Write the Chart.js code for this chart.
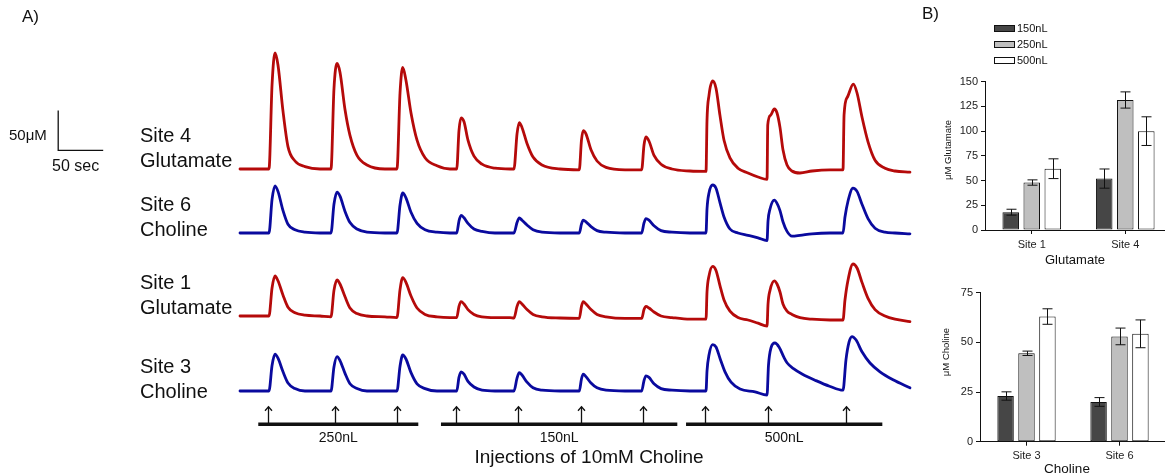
<!DOCTYPE html>
<html>
<head>
<meta charset="utf-8">
<script src="https://cdn.jsdelivr.net/npm/chart.js@4.4.1/dist/chart.umd.min.js"></script>
<style>
  html, body { margin: 0; padding: 0; background: #fff; overflow: hidden; }
  body { width: 1165px; height: 476px; position: relative; font-family: "Liberation Sans", Arial, sans-serif; color: #111; }
  .abs { position: absolute; white-space: nowrap; }
  canvas { position: absolute; }
  .site { font-size: 20px; line-height: 25px; left: 140px; }
  .rot { transform: translate(-50%, -50%) rotate(-90deg); font-size: 9.5px; }
  .ctr { transform: translate(-50%, -50%); }
  .legend-row { position: absolute; left: 994px; height: 14px; font-size: 11px; line-height: 14px; }
  .legend-row span.box { position: absolute; left: 0; top: 4px; width: 19px; height: 5px; border: 1px solid #111; }
  .legend-row span.txt { position: absolute; left: 23px; top: 0; }
</style>
</head>
<body>
<canvas id="traces" width="930" height="476" style="left:0;top:0"></canvas>
<canvas id="gluBars" width="252" height="200" style="left:920px;top:70px"></canvas>
<canvas id="choBars" width="246" height="196" style="left:920px;top:280px"></canvas>

<div class="abs" style="left:22px;top:7px;font-size:17px">A)</div>
<div class="abs" style="left:922px;top:4px;font-size:17px">B)</div>
<div class="abs" style="left:9px;top:126px;font-size:15px">50μM</div>
<div class="abs" style="left:52px;top:157px;font-size:16px">50 sec</div>
<div class="abs site" style="top:123px">Site 4<br>Glutamate</div>
<div class="abs site" style="top:192px">Site 6<br>Choline</div>
<div class="abs site" style="top:270px">Site 1<br>Glutamate</div>
<div class="abs site" style="top:354px">Site 3<br>Choline</div>
<div class="abs ctr" style="left:589px;top:457px;font-size:19px">Injections of 10mM Choline</div>
<div class="abs rot" style="left:947px;top:150px">μM Glutamate</div>
<div class="abs rot" style="left:945px;top:352px">μM Choline</div>
<div class="abs ctr" style="left:1075px;top:259px;font-size:13px">Glutamate</div>
<div class="abs ctr" style="left:1067px;top:468px;font-size:13.5px">Choline</div>
<div id="legend"></div>

<script>
// ---- Panel A: traces, [time (s), concentration above baseline (µM)] ----
const site4Glutamate = [
  [0,0],[32.2,0],[35.6,105],[38.9,145],[42.2,130],[47.8,72],[53.3,28],[61.1,10],[72.2,3],[88.9,0],
  [101.1,0],[104.4,100],[107.8,132],[111.1,121],[116.7,74],[122.2,42],[130,17],[141.1,5],[161.1,0],
  [174.4,0],[177.8,95],[180.8,127],[184.4,111],[190,70],[196.7,36],[205.6,14],[218.9,4],[233.3,0],
  [240.8,0],[243.3,48],[245.6,64],[248.9,59],[253.3,36],[260,16],[268.9,6],[283.3,1],[300,0],
  [304.4,0],[307.8,44],[310.3,58],[313.3,52],[318.9,32],[325.6,15],[335.6,5],[355.6,0],
  [377,-1],[379.4,36],[381.4,48],[384.4,44],[390,24],[396.7,10],[406.7,2],[427.8,-1],
  [446.3,-1],[448.9,30],[451.1,40],[454.4,35],[460,17],[467.8,6],[480,0],[500,-2.5],[517.8,-3],
  [518.9,61],[521.1,92],[525.2,110],[528.9,101],[533.3,67],[537.8,36],[544.4,14],[553.3,1],[564.4,-5],[575.6,-10],[585.6,-13],
  [586.4,55],[589.5,67],[593.7,75],[596.7,70],[600,52],[603.3,24],[607.8,5],[613.3,-2.5],[622.2,-5],[635.6,-2.5],[655.6,-1],[670,-1],
  [671.2,68],[675,90],[681.5,106],[685.6,95],[691.1,65],[697.8,34],[705.6,11],[716.7,1],[727.8,-2.5],[744.4,-4]
];
const site6Choline = [
  [0,0],[32.2,0],[35.6,42],[38.9,59],[42.2,52],[47.8,28],[53.3,11],[61.1,4],[72.2,1],[88.9,0],
  [101.1,0],[104.4,36],[107.8,51],[111.1,46],[116.7,27],[122.2,13],[130,5],[141.1,1],[161.1,0],
  [174.4,0],[177.8,35],[180.8,50],[184.4,44],[190,26],[196.7,12],[205.6,4],[218.9,1],[233.3,0],
  [240.8,0],[243.3,15],[245.6,22],[248.9,19],[253.3,12],[260,5],[268.9,2],[283.3,0],[300,0],
  [304.4,0],[307.8,13],[310.3,19],[313.3,16],[318.9,10],[325.6,4],[335.6,1],[355.6,0],
  [377,0],[379.4,11],[381.4,16],[384.4,14],[390,8],[396.7,3],[406.7,1],[427.8,0],
  [446.3,0],[448.9,12.6],[451.1,18],[454.4,16],[460,9],[467.8,3],[480,1],[500,0],[517.8,0],
  [518.9,30],[521.1,50],[525.2,60],[528.9,56],[533.3,38],[537.8,20],[544.4,5],[553.3,0],[564.4,-3],[575.6,-6],[585.6,-9.5],
  [586.7,15],[588.9,30],[593.7,41],[596.7,37],[600,28],[603.3,14],[607.8,2],[613.3,-4],[622.2,-3],[635.6,-1],[655.6,0],[670,0],
  [672.2,20],[675.6,40],[681.1,56],[685.6,52],[691.1,36],[697.8,18],[705.6,6],[716.7,1],[727.8,0],[744.4,-1]
];
const site1Glutamate = [
  [0,0],[32.2,0],[35.6,35],[38.9,50],[42.2,44],[47.8,26],[53.3,11],[61.1,4],[72.2,1],[88.9,0],
  [101.1,-1],[104.4,32],[107.8,45],[111.1,40],[116.7,24],[122.2,10],[130,3],[141.1,0],[161.1,-1],
  [174.4,-2],[177.8,33],[180.8,48],[184.4,42],[190,25],[196.7,10],[205.6,2],[218.9,-1],[233.3,-2],
  [240.8,-2],[243.3,12],[245.6,18],[248.9,15],[253.3,8],[260,2],[268.9,-1],[283.3,-2],[300,-2],
  [304.4,-2.5],[307.8,12],[310.3,18],[313.3,15],[318.9,8],[325.6,2],[335.6,-1],[355.6,-2.5],
  [377,-3],[379.4,12],[381.4,18],[384.4,15],[390,8],[396.7,2],[406.7,-1],[427.8,-3],
  [446.3,-3],[448.9,8],[451.1,12],[454.4,10],[460,5],[467.8,0],[480,-2],[500,-4],[517.8,-4],
  [518.9,30],[521.1,50],[525.2,62],[528.9,57],[533.3,38],[537.8,20],[544.4,6],[553.3,-2],[564.4,-5],[575.6,-9],[585.6,-12.5],
  [586.7,15],[588.9,32],[593.7,44],[596.7,40],[600,30],[603.3,15],[607.8,6],[613.3,2],[622.2,-2],[635.6,-4],[655.6,-5],[670,-5],
  [672.2,20],[675.6,45],[681.1,65],[685.6,60],[691.1,42],[697.8,22],[705.6,8],[716.7,0],[727.8,-4],[744.4,-7]
];
const site3Choline = [
  [0,0],[32.2,0],[35.6,32],[38.9,46],[42.2,41],[47.8,24],[53.3,10],[61.1,3],[72.2,0],[88.9,0],
  [101.1,0],[104.4,30],[107.8,43],[111.1,38],[116.7,22],[122.2,9],[130,3],[141.1,0],[161.1,0],
  [174.4,0],[177.8,31],[180.8,45],[184.4,40],[190,23],[196.7,9],[205.6,3],[218.9,0],[233.3,0],
  [240.8,0],[243.3,17],[245.6,24],[248.9,21],[253.3,12],[260,5],[268.9,1],[283.3,0],[300,0],
  [304.4,0],[307.8,16],[310.3,23],[313.3,20],[318.9,11],[325.6,4],[335.6,1],[355.6,0],
  [377,0],[379.4,15],[381.4,21],[384.4,18],[390,10],[396.7,4],[406.7,1],[427.8,0],
  [446.3,0],[448.9,13],[451.1,19],[454.4,17],[460,9],[467.8,3],[480,1],[500,0],[517.8,0],
  [518.9,25],[521.1,45],[525.2,58],[528.9,55],[533.3,41],[538.9,24],[545.6,11],[555.6,2.5],[572.2,-1],[585.6,-5],
  [587.2,32],[590,54],[594.4,60],[598.9,55],[604.4,42],[608,35],[615,28],[625,21],[640,13],[655,6],[670,1],
  [673.3,39],[676.7,61],[680,68],[684.4,64],[691.1,49],[700,35],[711.1,24],[725.6,14],[744.4,4]
];

// injections (s) and dose groups
const injectionTimes = [30.8, 105.6, 174.1, 240, 308.6, 378.9, 447.4, 516.7, 586.3, 673.3];
const groupLabels = ['250nL', '150nL', '500nL'];
const groupStart = [20.3, 223.3, 495.6];
const groupEnd = [198.1, 485.9, 713.7];

// ---- Panel B: peak amplitudes (µM), mean and error ----
const doseLabels = ['150nL', '250nL', '500nL'];
const gluSites = ['Site 1', 'Site 4'];
const glu150 = [18, 52];
const glu250 = [48, 131.5];
const glu500 = [62, 100];
const gluErr150 = [3, 9.7];
const gluErr250 = [2.7, 8.2];
const gluErr500 = [10, 14.5];
const choSites = ['Site 3', 'Site 6'];
const cho150 = [23, 20];
const cho250 = [44.5, 53];
const cho500 = [63, 54.3];
const choErr150 = [2.1, 2.2];
const choErr250 = [1.1, 4.2];
const choErr500 = [3.9, 7];

// layout of the stacked traces (baseline of each trace, µM on the stacking axis)
const RED = '#b50a0a', BLUE = '#0a0a9e';
const traces = [
  { pts: site4Glutamate, base: 383.75, color: RED },
  { pts: site6Choline, base: 303.75, color: BLUE },
  { pts: site1Glutamate, base: 200, color: RED },
  { pts: site3Choline, base: 106.25, color: BLUE }
];
const doseFill = ['#464646', '#bfbfbf', '#ffffff'];

Chart.defaults.font.family = '"Liberation Sans", Arial, sans-serif';

const injectionMarks = {
  id: 'injectionMarks',
  afterDatasetsDraw(chart) {
    const { ctx, scales: { x, y } } = chart;
    ctx.save();
    ctx.strokeStyle = '#111';
    ctx.fillStyle = '#111';
    // scale bar: 50 µM x 50 s
    ctx.lineWidth = 1.3;
    const sx = x.getPixelForValue(-202), sy = y.getPixelForValue(407);
    ctx.beginPath();
    ctx.moveTo(sx, y.getPixelForValue(407 + 50));
    ctx.lineTo(sx, sy);
    ctx.lineTo(x.getPixelForValue(-202 + 50), sy);
    ctx.stroke();
    // arrows
    injectionTimes.forEach(t => {
      const px = Math.round(x.getPixelForValue(t)) + 0.5;
      const y0 = y.getPixelForValue(66), y1 = y.getPixelForValue(86.6);
      ctx.beginPath(); ctx.moveTo(px, y0); ctx.lineTo(px, y1); ctx.stroke();
      ctx.beginPath(); ctx.moveTo(px - 3.5, y1 + 4); ctx.lineTo(px, y1); ctx.lineTo(px + 3.5, y1 + 4); ctx.stroke();
    });
    // dose bars + labels
    ctx.lineWidth = 3.6;
    ctx.font = '14px "Liberation Sans", Arial, sans-serif';
    ctx.textAlign = 'center';
    ctx.textBaseline = 'middle';
    groupLabels.forEach((lab, i) => {
      const by = y.getPixelForValue(64.6);
      const x0 = x.getPixelForValue(groupStart[i]), x1 = x.getPixelForValue(groupEnd[i]);
      ctx.beginPath(); ctx.moveTo(x0, by); ctx.lineTo(x1, by); ctx.stroke();
      ctx.fillText(lab, (x0 + x1) / 2, y.getPixelForValue(47.9));
    });
    ctx.restore();
  }
};

new Chart(document.getElementById('traces'), {
  type: 'line',
  data: {
    datasets: traces.map(tr => ({
      data: tr.pts.map(([t, c]) => ({ x: t, y: c + tr.base })),
      borderColor: tr.color,
      borderWidth: 2.8,
      pointRadius: 0,
      cubicInterpolationMode: 'monotone',
      borderJoinStyle: 'round',
      borderCapStyle: 'round',
      fill: false
    }))
  },
  options: {
    responsive: false,
    animation: false,
    events: [],
    layout: { padding: 0 },
    plugins: { legend: { display: false }, tooltip: { enabled: false } },
    scales: {
      x: { type: 'linear', display: false, min: -266.67, max: 766.67 },
      y: { type: 'linear', display: false, min: 0, max: 595 }
    }
  },
  plugins: [injectionMarks]
});

const errorBars = {
  id: 'errorBars',
  afterDatasetsDraw(chart, args, opts) {
    const { ctx, scales: { y } } = chart;
    ctx.save();
    ctx.strokeStyle = '#111';
    ctx.lineWidth = 1;
    chart.data.datasets.forEach((ds, i) => {
      chart.getDatasetMeta(i).data.forEach((bar, j) => {
        const v = ds.data[j], e = opts.errors[i][j];
        const px = Math.round(bar.x) + 0.5;
        const yt = y.getPixelForValue(v + e), yb = y.getPixelForValue(v - e);
        ctx.beginPath();
        ctx.moveTo(px, yt); ctx.lineTo(px, yb);
        ctx.moveTo(px - 5, yt); ctx.lineTo(px + 5, yt);
        ctx.moveTo(px - 5, yb); ctx.lineTo(px + 5, yb);
        ctx.stroke();
      });
    });
    ctx.restore();
  }
};

function barChart(id, sites, means, errs, yMax, padTop, yAxisW, xAxisH) {
  return new Chart(document.getElementById(id), {
    type: 'bar',
    data: {
      labels: sites,
      datasets: doseLabels.map((d, i) => ({
        label: d,
        data: means[i],
        backgroundColor: doseFill[i],
        borderColor: '#111',
        borderWidth: 1,
        borderSkipped: false,
        categoryPercentage: 0.675,
        barPercentage: 0.786
      }))
    },
    options: {
      responsive: false,
      animation: false,
      events: [],
      layout: { padding: { top: padTop, right: 0, left: 0, bottom: 0 } },
      plugins: { legend: { display: false }, tooltip: { enabled: false }, errorBars: { errors: errs } },
      scales: {
        x: {
          grid: { offset: false, drawOnChartArea: false, tickLength: 4, color: '#111' },
          border: { color: '#111', width: 1 },
          ticks: { font: { size: 11 }, color: '#222', padding: 4 },
          afterFit: s => { s.height = xAxisH; }
        },
        y: {
          min: 0, max: yMax,
          ticks: { stepSize: 25, font: { size: 11 }, color: '#222', padding: 3 },
          grid: { drawOnChartArea: false, tickLength: 4, color: '#111' },
          border: { color: '#111', width: 1 },
          afterFit: s => { s.width = yAxisW; }
        }
      }
    },
    plugins: [errorBars]
  });
}

barChart('gluBars', gluSites, [glu150, glu250, glu500], [gluErr150, gluErr250, gluErr500], 150, 11.7, 65, 40);
barChart('choBars', choSites, [cho150, cho250, cho500], [choErr150, choErr250, choErr500], 75, 12.7, 60, 34.3);

// legend
const legend = document.getElementById('legend');
const legendTops = [21, 36.5, 53];
doseLabels.forEach((d, i) => {
  const row = document.createElement('div');
  row.className = 'legend-row';
  row.style.top = legendTops[i] + 'px';
  row.innerHTML = '<span class="box" style="background:' + doseFill[i] + '"></span><span class="txt">' + d + '</span>';
  legend.appendChild(row);
});
</script>
</body>
</html>
